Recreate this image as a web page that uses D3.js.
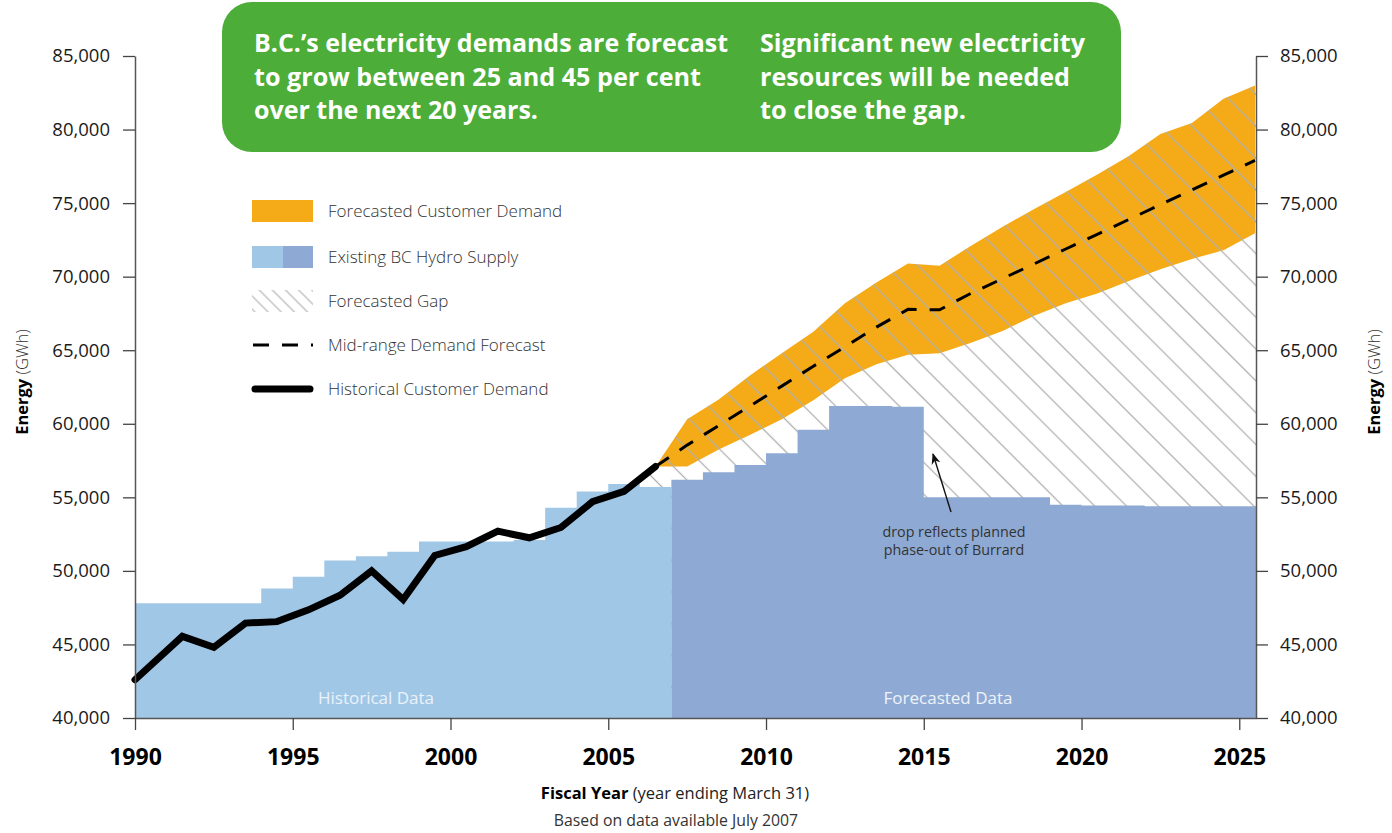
<!DOCTYPE html>
<html>
<head>
<meta charset="utf-8">
<script src="https://cdn.jsdelivr.net/npm/d3@7"></script>
<style>
  body { margin: 0; background: #fff; }
  svg { display: block; font-family: "Open Sans", "Noto Sans", sans-serif; }
</style>
</head>
<body>
<div id="chart"></div>
<script>
// Existing BC Hydro supply, step starts (fiscal year) and GWh
const histSupplyYears = [1990, 1994, 1995, 1996, 1997, 1998, 1999, 2002, 2003, 2004, 2005, 2006];
const histSupply = [47800, 48800, 49600, 50700, 51000, 51300, 52000, 52100, 54300, 55400, 55900, 55700];
const foreSupplyYears = [2007, 2008, 2009, 2010, 2011, 2012, 2013, 2014, 2015, 2019, 2020, 2022];
const foreSupply = [56200, 56700, 57200, 58000, 59600, 61200, 61200, 61150, 55000, 54500, 54450, 54400];

// Historical customer demand
const histYears = [1990, 1991.5, 1992.5, 1993.5, 1994.5, 1995.5, 1996.5, 1997.5, 1998.5, 1999.5,
  2000.5, 2001.5, 2002.5, 2003.5, 2004.5, 2005.5, 2006.5];
const histDemand = [42600, 45550, 44800, 46450, 46550, 47350, 48350, 50000, 48050, 51050,
  51650, 52700, 52250, 52950, 54700, 55400, 57100];

// Forecasted customer demand band + mid-range forecast
const foreYears = [2006.5, 2007.5, 2008.5, 2009.5, 2010.5, 2011.5, 2012.5, 2013.5, 2014.5, 2015.5,
  2016.5, 2017.5, 2018.5, 2019.5, 2020.5, 2021.5, 2022.5, 2023.5, 2024.5, 2025.5];
const foreHigh = [57100, 60300, 61650, 63300, 64800, 66250, 68200, 69600, 70900, 70750,
  72100, 73400, 74600, 75750, 76950, 78200, 79700, 80450, 82100, 83000];
const foreLow = [57100, 57100, 58250, 59250, 60300, 61600, 63100, 64050, 64700, 64800,
  65500, 66300, 67350, 68200, 68850, 69700, 70500, 71200, 71800, 72950];
const foreMid = [57100, 58550, 59880, 61220, 62560, 63910, 65230, 66570, 67780, 67750,
  68870, 69870, 70870, 71880, 72880, 73890, 74890, 75900, 76900, 77900];

const yTicks = [40000, 45000, 50000, 55000, 60000, 65000, 70000, 75000, 80000, 85000];
const xTicks = [1990, 1995, 2000, 2005, 2010, 2015, 2020, 2025];

const legendLabels = ['Forecasted Customer Demand', 'Existing BC Hydro Supply', 'Forecasted Gap',
  'Mid-range Demand Forecast', 'Historical Customer Demand'];
const headerLeft = ['B.C.\u2019s electricity demands are forecast', 'to grow between 25 and 45 per cent', 'over the next 20 years.'];
const headerRight = ['Significant new electricity', 'resources will be needed', 'to close the gap.'];

(function () {
  const W = 1392, H = 833;
  const xEnd = 2025.53;
  const ORANGE = '#f5aa17', LIGHT_BLUE = '#a1c7e7', DARK_BLUE = '#8eaad4', GREEN = '#4cad38';

  const x = d3.scaleLinear().domain([1990, xEnd]).range([135, 1256]);
  const y = d3.scaleLinear().domain([40000, 85000]).range([718, 56]);

  const svg = d3.select('#chart').append('svg').attr('width', W).attr('height', H);
  const defs = svg.append('defs');

  const makeHatch = function (id, gap, width) {
    defs.append('pattern')
      .attr('id', id)
      .attr('patternUnits', 'userSpaceOnUse')
      .attr('width', gap).attr('height', gap)
      .attr('patternTransform', 'rotate(-45)')
      .append('line')
      .attr('x1', gap / 2).attr('y1', 0).attr('x2', gap / 2).attr('y2', gap)
      .attr('stroke', '#b0b0b0').attr('stroke-width', width);
  };
  makeHatch('hatch', 22.5, 1.3);
  makeHatch('hatchSmall', 9.3, 1.1);

  const zip = (xs, ys) => xs.map((d, i) => ({ x: d, y: ys[i] }));
  const steps = (xs, ys, end) => zip(xs, ys).concat([{ x: end, y: ys[ys.length - 1] }]);

  // orange demand band
  const band = zip(foreYears, foreHigh).map((d, i) => ({ x: d.x, hi: d.y, lo: foreLow[i] }));
  svg.append('path')
    .datum(band)
    .attr('fill', ORANGE)
    .attr('d', d3.area().x(d => x(d.x)).y0(d => y(d.lo)).y1(d => y(d.hi)));

  // hatched gap: everything under the demand ceiling, supply covers the rest
  const ceiling = zip(histYears.slice(-2, -1), histDemand.slice(-2, -1)).concat(zip(foreYears, foreHigh));
  ceiling.push({ x: xEnd, y: foreHigh[foreHigh.length - 1] });
  svg.append('path')
    .datum(ceiling)
    .attr('fill', 'url(#hatch)')
    .attr('d', d3.area().x(d => x(d.x)).y0(y(40000)).y1(d => y(d.y)));

  // supply steps
  const stepArea = d3.area().curve(d3.curveStepAfter).x(d => x(d.x)).y0(y(40000)).y1(d => y(d.y));
  svg.append('path')
    .datum(steps(histSupplyYears, histSupply, foreSupplyYears[0]))
    .attr('fill', LIGHT_BLUE)
    .attr('d', stepArea);
  svg.append('path')
    .datum(steps(foreSupplyYears, foreSupply, xEnd))
    .attr('fill', DARK_BLUE)
    .attr('d', stepArea);

  svg.append('text').attr('x', 376).attr('y', 704).attr('text-anchor', 'middle')
    .attr('font-size', 17).attr('fill', '#eaf2fa').text('Historical Data');
  svg.append('text').attr('x', 948).attr('y', 704).attr('text-anchor', 'middle')
    .attr('font-size', 17).attr('fill', '#eef2f9').text('Forecasted Data');

  // mid-range dashed forecast
  const line = d3.line().x(d => x(d.x)).y(d => y(d.y));
  svg.append('path')
    .datum(zip(foreYears, foreMid))
    .attr('fill', 'none').attr('stroke', '#000').attr('stroke-width', 3)
    .attr('stroke-dasharray', '16 13')
    .attr('d', line);

  // historical demand
  svg.append('path')
    .datum(zip(histYears, histDemand))
    .attr('fill', 'none').attr('stroke', '#000').attr('stroke-width', 7)
    .attr('stroke-linejoin', 'miter').attr('stroke-linecap', 'round')
    .attr('d', line);

  // annotation
  defs.append('marker')
    .attr('id', 'arrow').attr('viewBox', '0 0 10 10').attr('refX', 9).attr('refY', 5)
    .attr('markerWidth', 8).attr('markerHeight', 8).attr('orient', 'auto')
    .append('path').attr('d', 'M0,1 L10,5 L0,9 L3,5 Z').attr('fill', '#111');
  svg.append('line')
    .attr('x1', 951).attr('y1', 512).attr('x2', 933).attr('y2', 454)
    .attr('stroke', '#111').attr('stroke-width', 1.4).attr('marker-end', 'url(#arrow)');
  svg.append('text').attr('text-anchor', 'middle').attr('font-size', 14.3).attr('fill', '#333')
    .selectAll('tspan').data(['drop reflects planned', 'phase-out of Burrard']).enter()
    .append('tspan').attr('x', 954).attr('y', (d, i) => 537 + i * 18).text(d => d);

  // axes
  const styleAxis = function (g) {
    g.select('.domain').attr('stroke', '#555').attr('stroke-width', 1.5);
    g.selectAll('.tick line').attr('stroke', '#444').attr('stroke-width', 1.3);
    g.selectAll('.tick text').attr('fill', '#1a1a1a').attr('font-family', '"Open Sans", sans-serif');
  };
  const fmt = d3.format(',');
  svg.append('g').attr('transform', `translate(${x(1990)},0)`)
    .call(d3.axisLeft(y).tickValues(yTicks).tickFormat(fmt).tickSize(12).tickSizeOuter(0).tickPadding(13))
    .call(styleAxis)
    .selectAll('.tick text').attr('font-size', 18.5);
  svg.append('g').attr('transform', `translate(${x(xEnd)},0)`)
    .call(d3.axisRight(y).tickValues(yTicks).tickFormat(fmt).tickSize(12).tickSizeOuter(0).tickPadding(12))
    .call(styleAxis)
    .selectAll('.tick text').attr('font-size', 18.5);
  const xAxis = svg.append('g').attr('transform', `translate(0,${y(40000)})`)
    .call(d3.axisBottom(x).tickValues(xTicks).tickFormat(d3.format('d')).tickSize(12).tickSizeOuter(0))
    .call(styleAxis);
  xAxis.selectAll('.tick text').attr('font-size', 23).attr('font-weight', 700)
    .attr('fill', '#000').attr('y', 47).attr('dy', null);

  // axis titles
  const energyTitle = function (tx, ty) {
    const t = svg.append('text').attr('transform', `translate(${tx},${ty}) rotate(-90)`)
      .attr('text-anchor', 'middle').attr('font-size', 16.5).attr('fill', '#000');
    t.append('tspan').attr('font-weight', 700).text('Energy');
    t.append('tspan').attr('fill', '#333').attr('font-weight', 300).text('  (GWh)');
  };
  energyTitle(28, 382);
  energyTitle(1380, 382);

  const fy = svg.append('text').attr('x', 675).attr('y', 799).attr('text-anchor', 'middle')
    .attr('font-size', 16.5).attr('fill', '#222');
  fy.append('tspan').attr('font-weight', 700).attr('fill', '#000').text('Fiscal Year');
  fy.append('tspan').text(' (year ending March 31)');
  svg.append('text').attr('x', 676).attr('y', 826).attr('text-anchor', 'middle')
    .attr('font-size', 15.8).attr('fill', '#333').text('Based on data available July 2007');

  // legend
  const lg = svg.append('g').attr('transform', 'translate(252,0)');
  const rowY = [211, 257, 301, 345, 389];
  lg.append('rect').attr('x', 0).attr('y', rowY[0] - 11).attr('width', 61).attr('height', 22).attr('fill', ORANGE);
  lg.append('rect').attr('x', 0).attr('y', rowY[1] - 11).attr('width', 31).attr('height', 22).attr('fill', LIGHT_BLUE);
  lg.append('rect').attr('x', 31).attr('y', rowY[1] - 11).attr('width', 30).attr('height', 22).attr('fill', DARK_BLUE);
  lg.append('rect').attr('x', 0).attr('y', rowY[2] - 11).attr('width', 61).attr('height', 22).attr('fill', 'url(#hatchSmall)');
  lg.append('line').attr('x1', 1).attr('x2', 61).attr('y1', rowY[3]).attr('y2', rowY[3])
    .attr('stroke', '#000').attr('stroke-width', 3).attr('stroke-dasharray', '16 13');
  lg.append('line').attr('x1', 3).attr('x2', 58).attr('y1', rowY[4]).attr('y2', rowY[4])
    .attr('stroke', '#000').attr('stroke-width', 7).attr('stroke-linecap', 'round');
  lg.selectAll('text.lbl').data(legendLabels).enter().append('text')
    .attr('class', 'lbl').attr('x', 76).attr('y', (d, i) => rowY[i] + 6)
    .attr('font-size', 17).attr('font-weight', 300).attr('fill', '#333').text(d => d);

  // header box
  svg.append('rect').attr('x', 222).attr('y', 2).attr('width', 899).attr('height', 150)
    .attr('rx', 30).attr('fill', GREEN);
  const leftW = [474, 447, 284], rightW = [325, 310, 206];
  const header = function (lines, widths, tx) {
    svg.append('g').selectAll('text').data(lines).enter().append('text')
      .attr('x', tx).attr('y', (d, i) => 52 + i * 33.5)
      .attr('font-size', 25).attr('font-weight', 700).attr('fill', '#fff')
      .attr('textLength', (d, i) => widths[i]).attr('lengthAdjust', 'spacingAndGlyphs')
      .text(d => d);
  };
  header(headerLeft, leftW, 254);
  header(headerRight, rightW, 760);
})();
</script>
</body>
</html>
